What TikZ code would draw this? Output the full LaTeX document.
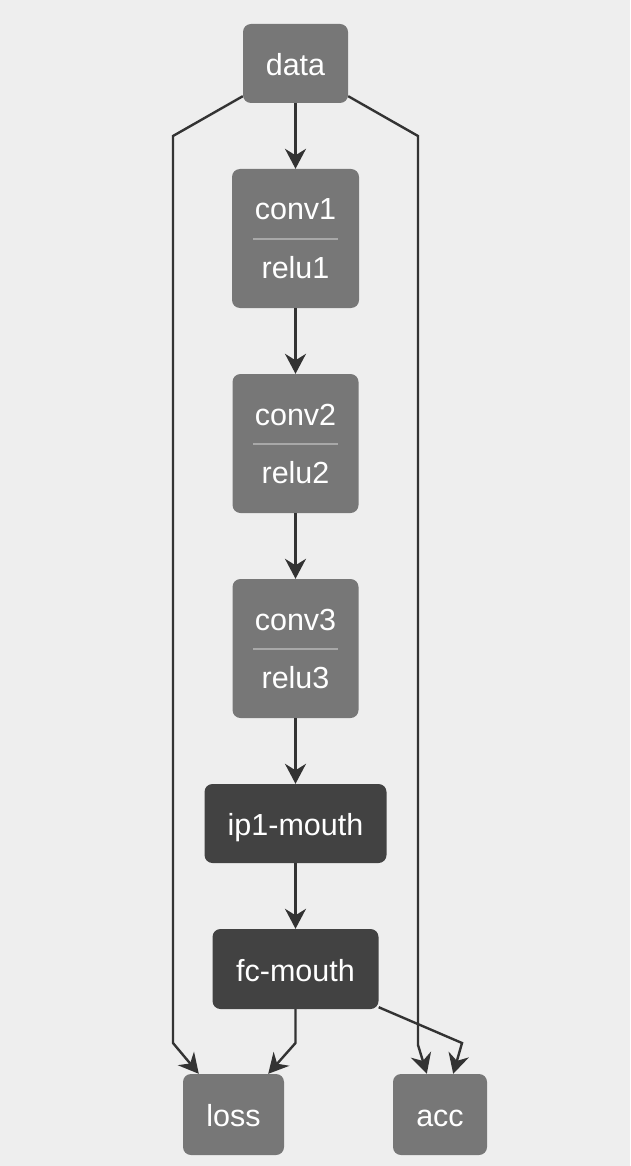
\documentclass[tikz,border=0pt]{standalone}
\usepackage{fontspec}
\setmainfont{Liberation Sans}
\usetikzlibrary{arrows.meta,calc}
\definecolor{bgc}{HTML}{EEEEEE}
\definecolor{layerc}{HTML}{777777}
\definecolor{darkc}{HTML}{424242}
\definecolor{edgec}{HTML}{333333}
\definecolor{divc}{HTML}{A8A8A8}
\begin{document}
\begin{tikzpicture}[x=1pt,y=-1pt,
  box/.style={draw=none,fill=layerc,rounded corners=8pt,inner sep=0pt,
    text=white,font=\fontsize{30.5}{36}\selectfont,text height=24pt,text depth=0pt},
  darkbox/.style={box,fill=darkc},
  lbl/.style={text=white,font=\fontsize{30.5}{36}\selectfont,inner sep=0pt,anchor=base},
  divider/.style={draw=divc,line width=1.5pt},
  edge/.style={draw=edgec,line width=2.4pt,
    -{Stealth[length=20pt,width=21pt,inset=6.5pt]}}]
\useasboundingbox[fill=bgc] (0,0) rectangle (630,1166);

% nodes
\node[box,minimum width=105pt,minimum height=79pt] (data) at (295.5,63.5) {data};
\node[box,minimum width=127pt,minimum height=139pt] (conv1) at (295.5,238.5) {};
\node[box,minimum width=126pt,minimum height=139pt] (conv2) at (295.5,443.5) {};
\node[box,minimum width=126pt,minimum height=139pt] (conv3) at (295.5,648.5) {};
\node[darkbox,minimum width=182pt,minimum height=79pt] (ip1) at (295.5,823.5) {ip1-mouth};
\node[darkbox,minimum width=166pt,minimum height=80pt] (fc) at (295.5,969) {fc-mouth};
\node[box,minimum width=101pt,minimum height=81pt] (loss) at (233.5,1114.5) {loss};
\node[box,minimum width=94pt,minimum height=81pt] (acc) at (440,1114.5) {acc};

% two-part labels
\foreach \n/\a/\b in {conv1/conv1/relu1,conv2/conv2/relu2,conv3/conv3/relu3}{
  \node[lbl] (\n-top) at ($(\n.center)+(0,-18.5)$) {\a};
  \node[lbl] (\n-bot) at ($(\n.center)+(0,39.5)$) {\b};
  \draw[divider] ($(\n.center)+(-42.5,0.5)$) -- ($(\n.center)+(42.5,0.5)$);
}

% chain edges
\draw[edge] (data) -- (conv1);
\draw[edge] (conv1) -- (conv2);
\draw[edge] (conv2) -- (conv3);
\draw[edge] (conv3) -- (ip1);
\draw[edge] (ip1) -- (fc);

% side edges
\coordinate (dl1) at (173,136);
\coordinate (dl2) at (173,1043);
\coordinate (dr1) at (418,136);
\coordinate (dr2) at (418,1045);
\coordinate (fl) at (295.5,1043);
\coordinate (fr) at (462,1043);

\draw[edge] ([yshift=7pt]data.south west) -- (dl1) -- (dl2) -- ([xshift=16pt]loss.north west);
\draw[edge] ([yshift=7pt]data.south east) -- (dr1) -- (dr2) -- ([xshift=34pt]acc.north west);
\draw[edge] (fc.south) -- (fl) -- ([xshift=-16pt]loss.north east);
\draw[edge] ([yshift=2pt]fc.south east) -- (fr) -- ([xshift=-34pt]acc.north east);
\end{tikzpicture}
\end{document}
